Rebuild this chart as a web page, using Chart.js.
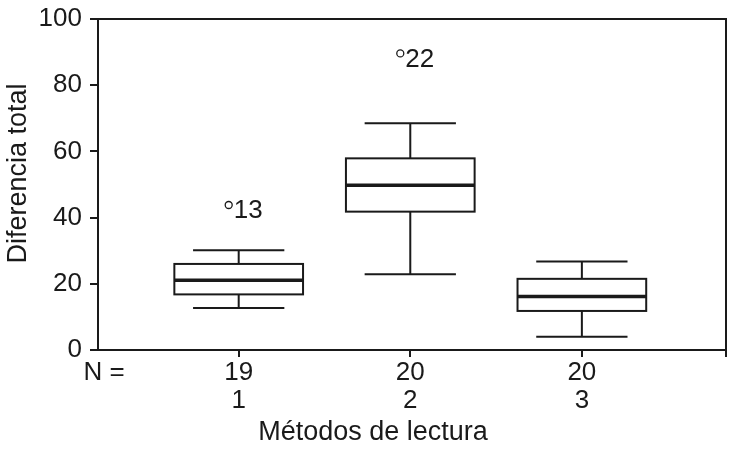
<!DOCTYPE html>
<html lang="es">
<head>
<meta charset="UTF-8">
<title>Diferencia total por método de lectura</title>
<script src="https://cdn.jsdelivr.net/npm/chart.js"></script>
<style>
  html, body { margin: 0; padding: 0; background: #fff; }
  #wrap { width: 730px; height: 453px; }
</style>
</head>
<body>
<div id="wrap"><canvas id="boxChart"></canvas></div>
<script>
  // valores
  const metodos = ['1', '2', '3'];
  const nCasos = ['19', '20', '20'];
  const minimos = [12.7, 22.9, 4.0];
  const cuartil1 = [16.8, 41.8, 11.8];
  const medianas = [21.1, 49.8, 16.2];
  const cuartil3 = [26.0, 57.9, 21.5];
  const maximos = [30.1, 68.5, 26.7];
  const atipicoGrupo = [1, 2];
  const atipicoValor = [43.8, 89.6];
  const atipicoCaso = ['13', '22'];
  const yTicks = [0, 20, 40, 60, 80, 100];

  const ink = '#1a1a1a';
  const family = '"Liberation Sans", Arial, Helvetica, sans-serif';

  const cajas = {
    id: 'cajas',
    afterDraw(chart) {
      const { ctx, chartArea: a, scales: { x, y } } = chart;
      ctx.save();
      ctx.strokeStyle = ink;
      ctx.fillStyle = ink;

      // marco arriba y a la derecha
      ctx.lineWidth = 2;
      ctx.beginPath();
      ctx.moveTo(a.left - 1, a.top);
      ctx.lineTo(a.right, a.top);
      ctx.lineTo(a.right, a.bottom + 7);
      ctx.stroke();

      metodos.forEach((m, i) => {
        const v = i + 1;
        const cx = x.getPixelForValue(v);
        const bw = x.getPixelForValue(v + 0.375) - cx;
        const cw = x.getPixelForValue(v + 0.266) - cx;
        const yMin = y.getPixelForValue(minimos[i]);
        const yQ1 = y.getPixelForValue(cuartil1[i]);
        const yMed = y.getPixelForValue(medianas[i]);
        const yQ3 = y.getPixelForValue(cuartil3[i]);
        const yMax = y.getPixelForValue(maximos[i]);

        ctx.lineWidth = 2;
        ctx.beginPath();
        // bigotes
        ctx.moveTo(cx, yQ3); ctx.lineTo(cx, yMax);
        ctx.moveTo(cx - cw, yMax); ctx.lineTo(cx + cw, yMax);
        ctx.moveTo(cx, yQ1); ctx.lineTo(cx, yMin);
        ctx.moveTo(cx - cw, yMin); ctx.lineTo(cx + cw, yMin);
        ctx.stroke();

        ctx.strokeRect(cx - bw, yQ3, bw * 2, yQ1 - yQ3);

        ctx.lineWidth = 3.5;
        ctx.beginPath();
        ctx.moveTo(cx - bw, yMed); ctx.lineTo(cx + bw, yMed);
        ctx.stroke();
      });

      // valores atípicos
      ctx.font = '26px ' + family;
      ctx.textAlign = 'left';
      ctx.textBaseline = 'middle';
      atipicoGrupo.forEach((g, i) => {
        const px = x.getPixelForValue(g) - 10;
        const py = y.getPixelForValue(atipicoValor[i]);
        ctx.lineWidth = 1.3;
        ctx.beginPath();
        ctx.arc(px, py, 3.5, 0, Math.PI * 2);
        ctx.stroke();
        ctx.fillText(atipicoCaso[i], px + 5, py + 6);
      });

      // "N =" y títulos de los ejes
      ctx.textAlign = 'center';
      ctx.font = '26px ' + family;
      ctx.fillText('N =', a.left + 6, a.bottom + 23);

      ctx.font = '27px ' + family;
      ctx.fillText('Métodos de lectura', 373, a.bottom + 83);

      ctx.translate(19, (a.top + a.bottom) / 2 - 11);
      ctx.rotate(-Math.PI / 2);
      ctx.fillText('Diferencia total', 0, 0);
      ctx.restore();
    }
  };

  new Chart(document.getElementById('boxChart'), {
    type: 'scatter',
    data: { datasets: [] },
    options: {
      responsive: true,
      maintainAspectRatio: false,
      animation: false,
      layout: { padding: { left: 0, right: 4, top: 19, bottom: 0 } },
      plugins: { legend: { display: false }, tooltip: { enabled: false } },
      scales: {
        x: {
          type: 'linear',
          min: 0.18,
          max: 3.84,
          afterBuildTicks: s => { s.ticks = metodos.map((m, i) => ({ value: i + 1 })); },
          afterFit: s => { s.height = 103; s.paddingLeft = 0; s.paddingRight = 0; },
          border: { display: true, color: ink, width: 2 },
          grid: { drawOnChartArea: false, drawTicks: true, tickLength: 7, color: ink, lineWidth: 2 },
          ticks: {
            autoSkip: false,
            maxRotation: 0,
            color: ink,
            padding: 2,
            font: { family, size: 26, lineHeight: 1.08 },
            callback: (v, i) => [nCasos[i], metodos[i]]
          }
        },
        y: {
          min: 0,
          max: 100,
          afterBuildTicks: s => { s.ticks = yTicks.map(v => ({ value: v })); },
          afterFit: s => { s.width = 98; s.paddingTop = 0; s.paddingBottom = 0; },
          border: { display: true, color: ink, width: 2 },
          grid: { drawOnChartArea: false, drawTicks: true, tickLength: 8, color: ink, lineWidth: 2 },
          ticks: { color: ink, padding: 8, font: { family, size: 26 } }
        }
      }
    },
    plugins: [cajas]
  });
</script>
</body>
</html>
